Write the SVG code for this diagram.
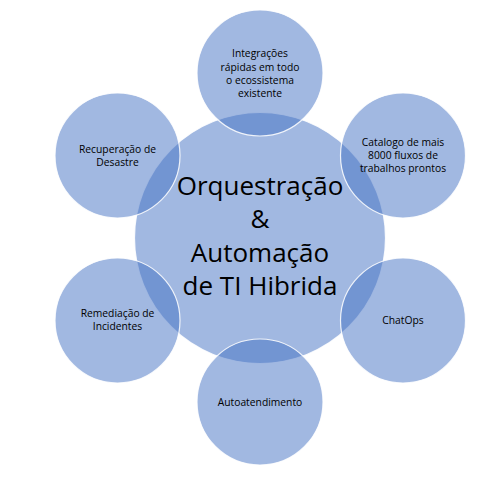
<svg xmlns="http://www.w3.org/2000/svg" width="491" height="480" viewBox="0 0 491 480">
<style>
.c{fill:#4472C4;fill-opacity:0.5;stroke:#FFFFFF;stroke-opacity:0.85;stroke-width:1.2}
.t{font-family:"Open Sans","Noto Sans","Liberation Sans",sans-serif;font-size:10.3px;fill:#000;text-anchor:middle}
.b{font-family:"Open Sans","Noto Sans","Liberation Sans",sans-serif;font-size:26px;fill:#000;text-anchor:middle}
</style>
<rect width="491" height="480" fill="#FFFFFF"/>
<g id="center">
<circle class="c" cx="260" cy="238" r="125.5"/>
</g>
<g id="connectors"></g>
<g id="n-integracoes">
<circle class="c" cx="260" cy="73" r="63"/>
<text class="t" x="260" y="57">Integrações</text>
<text class="t" x="260" y="70.5">rápidas em todo</text>
<text class="t" x="260" y="84">o ecossistema</text>
<text class="t" x="260" y="97">existente</text>
</g>
<g id="n-catalogo">
<circle class="c" cx="403" cy="155.5" r="62.5"/>
<text class="t" x="403" y="146">Catalogo de mais</text>
<text class="t" x="403" y="159">8000 fluxos de</text>
<text class="t" x="403" y="172">trabalhos prontos</text>
</g>
<g id="n-chatops">
<circle class="c" cx="403" cy="320.5" r="62.5"/>
<text class="t" x="403" y="324">ChatOps</text>
</g>
<g id="n-autoatendimento">
<circle class="c" cx="260" cy="402" r="63"/>
<text class="t" x="260" y="406">Autoatendimento</text>
</g>
<g id="n-remediacao">
<circle class="c" cx="117.5" cy="320.5" r="62.5"/>
<text class="t" x="117.5" y="317">Remediação de</text>
<text class="t" x="117.5" y="330">Incidentes</text>
</g>
<g id="n-recuperacao">
<circle class="c" cx="117.5" cy="155.5" r="62.5"/>
<text class="t" x="117.5" y="153">Recuperação de</text>
<text class="t" x="117.5" y="166">Desastre</text>
</g>
<g id="center-label">
<text class="b" x="260" y="195">Orquestração</text>
<text class="b" x="260" y="228">&amp;</text>
<text class="b" x="260" y="262">Automação</text>
<text class="b" x="260" y="295">de TI Hibrida</text>
</g>
</svg>
